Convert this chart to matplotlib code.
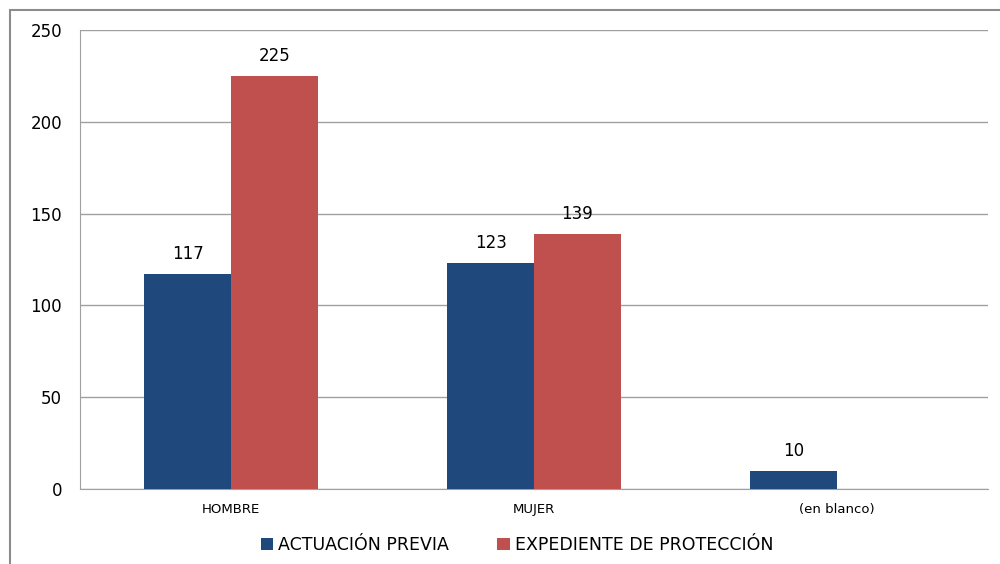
import matplotlib.pyplot as plt
import numpy as np
from matplotlib.patches import Rectangle

categorias = ["HOMBRE", "MUJER", "(en blanco)"]
actuacion_previa = [117, 123, 10]
expediente = [225, 139, None]

azul = "#1F497D"
rojo = "#C0504D"

fig = plt.figure(figsize=(10, 5.64), dpi=100)
ax = fig.add_axes([0.08, 0.133, 0.908, 0.8138])

# marco del grafico
fig.patches.append(Rectangle((0.01, -0.1), 1.2, 1.082, transform=fig.transFigure,
                             fill=False, edgecolor="#8c8c8c", linewidth=1.5))

x = np.arange(len(categorias))
w = 0.287
b1 = ax.bar(x - w / 2, actuacion_previa, w, color=azul, label="ACTUACIÓN PREVIA", zorder=3)
vals2 = [v if v is not None else 0 for v in expediente]
b2 = ax.bar(x + w / 2, vals2, w, color=rojo, label="EXPEDIENTE DE PROTECCIÓN", zorder=3)

for rect, v in zip(b1, actuacion_previa):
    ax.text(rect.get_x() + rect.get_width() / 2, v + 6, str(v), ha="center", va="bottom",
            fontsize=12)
for rect, v in zip(b2, expediente):
    if v is None:
        continue
    ax.text(rect.get_x() + rect.get_width() / 2, v + 6, str(v), ha="center", va="bottom",
            fontsize=12)

ax.set_xlim(-0.5, 2.5)
ax.set_ylim(0, 250)
ax.set_yticks([0, 50, 100, 150, 200, 250])
ax.set_xticks(x)
ax.set_xticklabels(categorias, fontsize=9.5)
ax.tick_params(axis="y", labelsize=12, length=0, pad=13)
ax.tick_params(axis="x", length=0, pad=10)
ax.grid(axis="y", color="#a0a0a0", linewidth=1, zorder=0)

for s in ["top", "right"]:
    ax.spines[s].set_visible(False)
ax.spines["left"].set_color("#a0a0a0")
ax.spines["bottom"].set_color("#a0a0a0")

fig.legend(handles=[b1, b2], loc="center", bbox_to_anchor=(0.517, 0.034), ncol=2,
           frameon=False, prop={"size": 12.5},
           handlelength=0.7, handleheight=0.7, handletextpad=0.3, columnspacing=2.8)

fig.savefig("out.png", dpi=100)
